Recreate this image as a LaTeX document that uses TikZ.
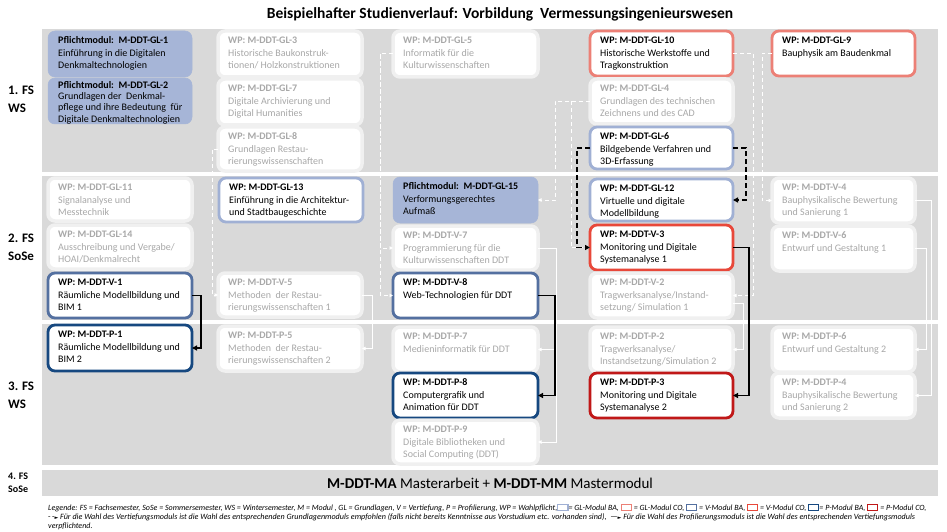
\documentclass[tikz,border=0pt]{standalone}
\usepackage{fontspec}
\setmainfont{Carlito}
\newfontfamily\symfont{DejaVu Sans}
\usetikzlibrary{arrows.meta}
\definecolor{bandgray}{RGB}{217,217,217}
\definecolor{pfl}{RGB}{166,181,215}
\definecolor{glba}{RGB}{160,176,212}
\definecolor{vba}{RGB}{84,112,160}
\definecolor{pba}{RGB}{22,72,128}
\definecolor{glco}{RGB}{236,128,118}
\definecolor{vco}{RGB}{232,72,58}
\definecolor{pco}{RGB}{192,24,24}
\definecolor{fadeb}{RGB}{240,240,240}
\definecolor{fadet}{RGB}{168,168,168}
\newcommand{\lbox}[1]{{\setlength{\fboxsep}{0pt}\setlength{\fboxrule}{1.1pt}\fcolorbox{#1}{white}{\rule{0pt}{5pt}\hspace{9pt}}}}
\newcommand{\modnode}[9]{%
  \node[#2, minimum width=#6pt, minimum height=#7pt] (#1) at (#4,#5) {};
  \node[#3] (#1-t) at ([xshift=10pt,yshift=-4pt]#1.north west) {\strut\textbf{#8}\\#9};
}
\tikzset{
 boxbase/.style={rounded corners=7pt, anchor=north west, inner sep=0pt, outer sep=0pt, fill=white, line width=2.8pt},
 fadebox/.style={boxbase, draw=fadeb, line width=3.5pt},
 pflbox/.style={boxbase, fill=pfl, draw=pfl, line width=0.5pt},
 glbabox/.style={boxbase, draw=glba},
 vbabox/.style={boxbase, draw=vba},
 pbabox/.style={boxbase, draw=pba},
 glcobox/.style={boxbase, draw=glco},
 vcobox/.style={boxbase, draw=vco},
 pcobox/.style={boxbase, draw=pco},
 mtext/.style={anchor=north west, inner sep=0pt, align=left, font=\fontsize{10}{12.3}\selectfont, text=black},
 ftext/.style={mtext, text=fadet},
 link/.style={line width=1.5pt, -{Triangle[length=5pt,width=5pt]}},
 dlink/.style={link, dash pattern=on 5pt off 3pt},
 wlink/.style={white, line width=1pt, -{Triangle[length=3.5pt,width=3.5pt]}},
 wdlink/.style={wlink, dash pattern=on 4pt off 3pt},
 band/.style={fill=bandgray, draw=none},
 semlabel/.style={anchor=west, align=left, inner sep=0pt, font=\bfseries\fontsize{13}{18}\selectfont},
 legtext/.style={anchor=base west, inner sep=0pt, font=\itshape\fontsize{8}{9}\selectfont},
}
\begin{document}
\begin{tikzpicture}[x=1pt,y=-1pt]
\useasboundingbox (0,0) rectangle (947,532);
\fill[white] (0,0) rectangle (947,532);
% bands
\fill[band] (42,29) rectangle (938,172);
\fill[band] (42,176) rectangle (938,320);
\fill[band] (42,324) rectangle (938,465);
\fill[band] (42,470) rectangle (938,496);
% title
\node[font=\bfseries\fontsize{15.5}{18}\selectfont] (title) at (500,14) {Beispielhafter Studienverlauf: Vorbildung\ \ Vermessungsingenieurswesen};
% semester labels
\node[semlabel] (s1) at (8,99) {1. FS\\WS};
\node[semlabel] (s2) at (8,247) {2. FS\\SoSe};
\node[semlabel] (s3) at (8,395) {3. FS\\WS};
\node[semlabel, font=\bfseries\fontsize{10}{13}\selectfont] (s4) at (8,483) {4. FS\\SoSe};
% band 1
\modnode{gl1}{pflbox}{mtext}{48}{31}{144}{46}{Pflichtmodul:\ \ M-DDT-GL-1}{Einführung in die Digitalen\\Denkmaltechnologien}
\node[pflbox, minimum width=144pt, minimum height=46pt] (gl2) at (48,78) {};
\node[mtext, font=\fontsize{10}{11.2}\selectfont] (gl2-t) at ([xshift=10pt,yshift=-2.5pt]gl2.north west) {\strut\textbf{Pflichtmodul:\ \ M-DDT-GL-2}\\Grundlagen der\ \ Denkmal-\\pflege und ihre Bedeutung\ \ für\\Digitale Denkmaltechnologien};
\modnode{gl3}{fadebox}{ftext}{218}{31}{144}{46}{WP: M-DDT-GL-3}{Historische Baukonstruk-\\tionen/ Holzkonstruktionen}
\modnode{gl7}{fadebox}{ftext}{218}{79}{144}{46}{WP: M-DDT-GL-7}{Digitale Archivierung und\\Digital Humanities}
\modnode{gl8}{fadebox}{ftext}{218}{127}{144}{44}{WP: M-DDT-GL-8}{Grundlagen Restau-\\rierungswissenschaften}
\modnode{gl5}{fadebox}{ftext}{393}{31}{145}{46}{WP: M-DDT-GL-5}{Informatik für die\\Kulturwissenschaften}
\modnode{gl10}{glcobox}{mtext}{590}{31}{143}{45}{WP: M-DDT-GL-10}{Historische Werkstoffe und\\Tragkonstruktion}
\modnode{gl4}{fadebox}{ftext}{590}{79}{143}{45}{WP: M-DDT-GL-4}{Grundlagen des technischen\\Zeichnens und des CAD}
\modnode{gl6}{glbabox}{mtext}{590}{127}{143}{42}{WP: M-DDT-GL-6}{Bildgebende Verfahren und\\3D-Erfassung}
\modnode{gl9}{glcobox}{mtext}{772}{31}{143}{45}{WP: M-DDT-GL-9}{Bauphysik am Baudenkmal}
% band 2
\modnode{gl11}{fadebox}{ftext}{48}{178}{144}{43}{WP: M-DDT-GL-11}{Signalanalyse und\\Messtechnik}
\modnode{gl14}{fadebox}{ftext}{48}{225}{144}{44}{WP: M-DDT-GL-14}{Ausschreibung und Vergabe/\\HOAI/Denkmalrecht}
\modnode{v1}{vbabox}{mtext}{48}{273}{144}{45}{WP: M-DDT-V-1}{Räumliche Modellbildung und\\BIM 1}
\modnode{gl13}{glbabox}{mtext}{219}{178}{144}{44}{WP: M-DDT-GL-13}{Einführung in die Architektur-\\und Stadtbaugeschichte}
\modnode{v5}{fadebox}{ftext}{218}{273}{144}{44}{WP: M-DDT-V-5}{Methoden\ \ der Restau-\\rierungswissenschaften 1}
\modnode{gl15}{pflbox}{mtext}{393}{177}{145}{46}{Pflichtmodul:\ \ M-DDT-GL-15}{Verformungsgerechtes\\Aufmaß}
\modnode{v7}{fadebox}{ftext}{393}{226}{145}{44}{WP: M-DDT-V-7}{Programmierung für die\\Kulturwissenschaften DDT}
\modnode{v8}{vbabox}{mtext}{393}{273}{145}{45}{WP: M-DDT-V-8}{Web-Technologien für DDT}
\modnode{gl12}{glbabox}{mtext}{590}{179}{143}{42}{WP: M-DDT-GL-12}{Virtuelle und digitale\\Modellbildung}
\modnode{v3}{vcobox}{mtext}{590}{225}{143}{45}{WP: M-DDT-V-3}{Monitoring und Digitale\\Systemanalyse 1}
\modnode{v2}{fadebox}{ftext}{590}{273}{143}{45}{WP: M-DDT-V-2}{Tragwerksanalyse/Instand-\\setzung/ Simulation 1}
\modnode{v4}{fadebox}{ftext}{772}{178}{143}{45}{WP: M-DDT-V-4}{Bauphysikalische Bewertung\\und Sanierung 1}
\modnode{v6}{fadebox}{ftext}{772}{226}{143}{45}{WP: M-DDT-V-6}{Entwurf und Gestaltung 1}
% band 3
\modnode{p1}{pbabox}{mtext}{48}{325}{144}{46}{WP: M-DDT-P-1}{Räumliche Modellbildung und\\BIM 2}
\modnode{p5}{fadebox}{ftext}{218}{326}{144}{45}{WP: M-DDT-P-5}{Methoden\ \ der Restau-\\rierungswissenschaften 2}
\modnode{p7}{fadebox}{ftext}{393}{327}{145}{45}{WP: M-DDT-P-7}{Medieninformatik für DDT}
\modnode{p8}{pbabox}{mtext}{393}{373}{145}{45}{WP: M-DDT-P-8}{Computergrafik und\\Animation für DDT}
\modnode{p9}{fadebox}{ftext}{393}{420}{145}{44}{WP: M-DDT-P-9}{Digitale Bibliotheken und\\Social Computing (DDT)}
\modnode{p2}{fadebox}{ftext}{590}{327}{143}{45}{WP: M-DDT-P-2}{Tragwerksanalyse/\\Instandsetzung/Simulation 2}
\modnode{p3}{pcobox}{mtext}{590}{373}{143}{45}{WP: M-DDT-P-3}{Monitoring und Digitale\\Systemanalyse 2}
\modnode{p6}{fadebox}{ftext}{772}{327}{143}{45}{WP: M-DDT-P-6}{Entwurf und Gestaltung 2}
\modnode{p4}{fadebox}{ftext}{772}{373}{143}{45}{WP: M-DDT-P-4}{Bauphysikalische Bewertung\\und Sanierung 2}
% band 4
\node[font=\fontsize{15}{17}\selectfont] (ma) at (490,483) {\textbf{M-DDT-MA} Masterarbeit + \textbf{M-DDT-MM} Mastermodul};
% white (faded) connectors
\draw[wdlink] (gl5.west) -- ([xshift=-13pt]gl5.west) |- (v7.west);
\draw[wdlink] ([xshift=-13pt]gl5.west) |- (v8.west);
\draw[wdlink] (gl8.west) -- ([xshift=-6pt]gl8.west) |- (v5.west);
\draw[wdlink] (gl4.west) -- ([xshift=-35pt]gl4.west) |- (gl15.east);
\draw[wdlink] ([xshift=-19pt]gl4.west) |- (v3.west);
\draw[wdlink] (gl10.east) -- ([xshift=20pt]gl10.east) |- (v2.east);
\draw[wdlink] (gl9.west) -- ([xshift=-10pt]gl9.west) |- (v4.west);
\draw[wlink] (v5.east) -- ([xshift=10pt]v5.east) |- (p5.east);
\draw[wlink] (v7.east) -- ([xshift=18pt]v7.east) |- (p7.east);
\draw[wlink] ([xshift=18pt]v7.east) |- (p9.east);
\draw[wlink] ([yshift=-8pt]v2.east) -- ([xshift=10pt,yshift=-8pt]v2.east) |- (p2.east);
\draw[wlink] (v6.east) -- ([xshift=11pt]v6.east) |- (p6.east);
\draw[wlink] (v4.east) -- ([xshift=16pt]v4.east) |- (p4.east);
% black connectors
\draw[link] (v1.east) -- ([xshift=9pt]v1.east) |- (p1.east);
\draw[link] (v8.east) -- ([xshift=17pt]v8.east) |- (p8.east);
\draw[link] (v3.east) -- ([xshift=16pt]v3.east) |- (p3.east);
\draw[dlink] (gl6.west) -- ([xshift=-13pt]gl6.west) |- (v3.west);
\draw[dlink] (gl6.east) -- ([xshift=13pt]gl6.east) |- (gl12.east);
% legend
\node[legtext] (leg1) at (48,510) {Legende: FS = Fachsemester, SoSe = Sommersemester, WS = Wintersemester, M = Modul , GL = Grundlagen, V = Vertiefung, P = Profilierung, WP = Wahlpflicht,\lbox{glba}= GL-Modul BA, \lbox{glco} = GL-Modul CO, \lbox{vba} = V-Modul BA, \lbox{vco} = V-Modul CO, \lbox{pba}= P-Modul BA, \lbox{pco} = P-Modul CO,};
\node[legtext, font=\itshape\fontsize{8.1}{9}\selectfont] (leg2) at (48,519.5) {\textup{-\,-{\symfont\fontsize{5}{6}\selectfont ►}} Für die Wahl des Vertiefungsmoduls ist die Wahl des entsprechenden Grundlagenmoduls empfohlen (falls nicht bereits Kenntnisse aus Vorstudium etc. vorhanden sind),\ \ \textup{—{\symfont\fontsize{5}{6}\selectfont ►}} Für die Wahl des Profilierungsmoduls ist die Wahl des entsprechenden Vertiefungsmoduls};
\node[legtext] (leg3) at (48,528.5) {verpflichtend.};
\end{tikzpicture}
\end{document}
